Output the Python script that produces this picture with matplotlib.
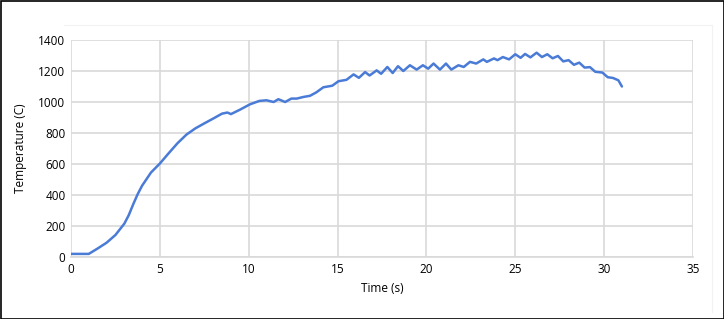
import matplotlib
matplotlib.use("Agg")
import matplotlib.pyplot as plt
from matplotlib.patches import Rectangle
from matplotlib.lines import Line2D

time_s = [0, 0.5, 1.0, 1.5, 2.0, 2.5, 3.0, 3.25, 3.5, 3.75, 4.0, 4.5, 5.0, 5.5, 6.0, 6.5, 7.0,
          7.5, 8.0, 8.5, 8.8, 9.0, 9.5, 10.07, 10.6, 11.0, 11.4, 11.67, 12.05, 12.4, 12.7,
          13.1, 13.45, 13.8, 14.2, 14.7, 15.05, 15.5, 15.9, 16.2, 16.55, 16.8, 17.2, 17.45,
          17.8, 18.1, 18.4, 18.7, 19.07, 19.45, 19.8, 20.1, 20.4, 20.76, 21.1, 21.4, 21.8,
          22.1, 22.45, 22.8, 23.2, 23.4, 23.8, 24.0, 24.3, 24.65, 25.0, 25.3, 25.55, 25.85,
          26.2, 26.5, 26.8, 27.1, 27.4, 27.7, 28.0, 28.3, 28.6, 28.9, 29.2, 29.5, 29.9,
          30.2, 30.5, 30.8, 31.0]
temp_c = [20, 20, 20, 55, 92, 142, 215, 270, 340, 405, 460, 545, 603, 670, 735, 790, 830,
          862, 893, 925, 932, 922, 950, 985, 1007, 1011, 1000, 1018, 1000, 1022, 1022,
          1033, 1040, 1062, 1095, 1105, 1134, 1143, 1178, 1156, 1193, 1171, 1204, 1182,
          1226, 1187, 1231, 1200, 1237, 1209, 1237, 1215, 1248, 1209, 1248, 1209, 1237,
          1226, 1259, 1248, 1275, 1259, 1281, 1270, 1290, 1275, 1308, 1285, 1310, 1288,
          1318, 1290, 1308, 1282, 1297, 1262, 1270, 1240, 1254, 1222, 1225, 1195, 1190,
          1160, 1155, 1140, 1100]

x_ticks = [0, 5, 10, 15, 20, 25, 30, 35]
y_ticks = [0, 200, 400, 600, 800, 1000, 1200, 1400]

plt.rcParams['font.family'] = ['Open Sans', 'DejaVu Sans']

fig = plt.figure(figsize=(7.24, 3.19), dpi=100)
ax = fig.add_axes([71/724, (319-257)/319, (693-71)/724, (257-40)/319])

ax.plot(time_s, temp_c, color='#4a7bd6', linewidth=1.8, solid_joinstyle='round',
        solid_capstyle='round', zorder=3)

ax.set_xlim(0, 35)
ax.set_ylim(0, 1400)
ax.set_xticks(x_ticks)
ax.set_yticks(y_ticks)
ax.grid(True, color='#d9d9d9', linewidth=1.2)
ax.set_axisbelow(True)
for s in ['top', 'right', 'left']:
    ax.spines[s].set_visible(False)
ax.spines['bottom'].set_color('#d9d9d9')
ax.spines['bottom'].set_linewidth(1.2)
ax.tick_params(length=0, labelsize=8.5, colors='#000000', pad=4)
ax.set_xlabel('Time (s)', fontsize=8.5, labelpad=5)
ax.set_ylabel('Temperature (C)', fontsize=8.5, labelpad=8)

# figure frame and faint chart-area lines
fig.patches.append(Rectangle((0.5/724, 0.5/319), 723/724, 318/319, transform=fig.transFigure,
                             fill=False, edgecolor='black', linewidth=1.2))
fig.lines.append(Line2D([64/724, 712/724], [1-25/319, 1-25/319], transform=fig.transFigure,
                        color='#f2f2f2', linewidth=0.8))
fig.lines.append(Line2D([712/724, 712/724], [1-25/319, 1-312/319], transform=fig.transFigure,
                        color='#f2f2f2', linewidth=0.8))

fig.savefig('out.png', dpi=100)
